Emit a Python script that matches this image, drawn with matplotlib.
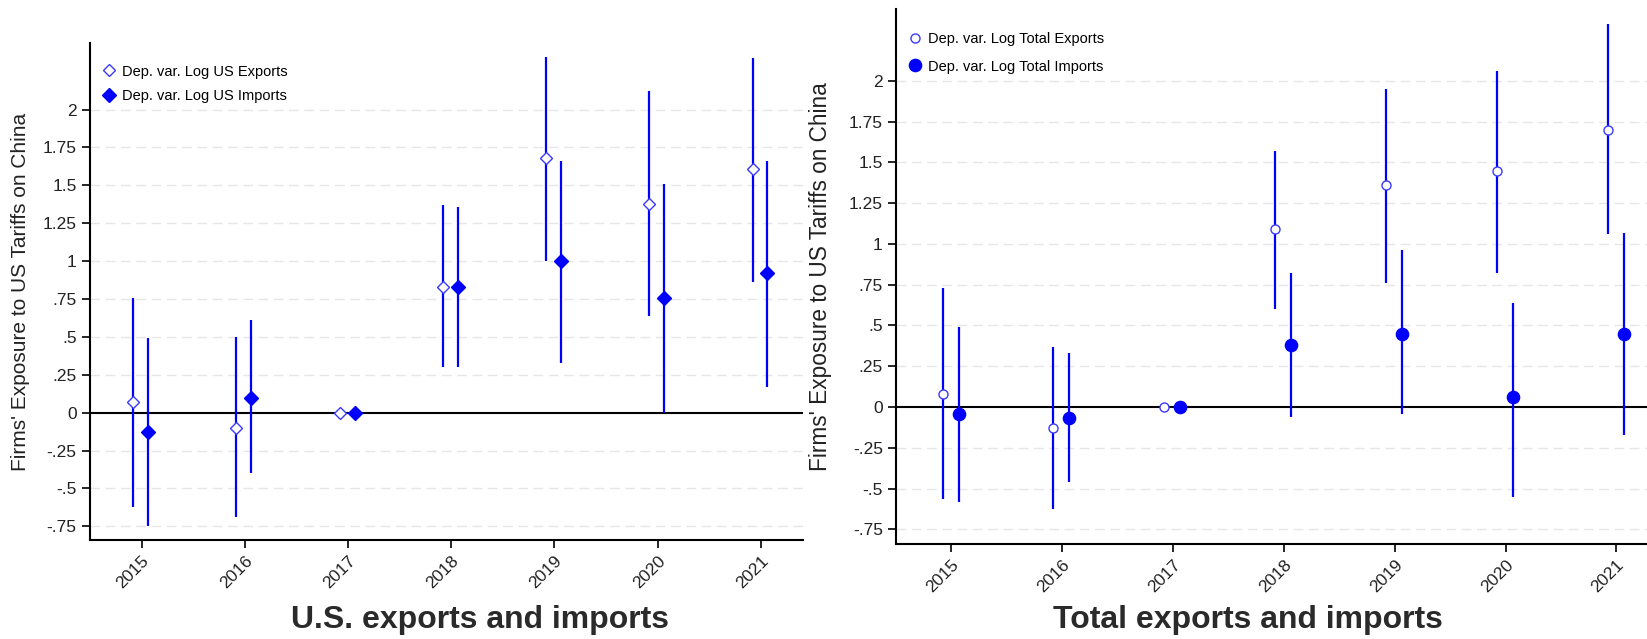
import numpy as np
import matplotlib
matplotlib.use("Agg")
import matplotlib.pyplot as plt
from matplotlib import font_manager

plt.rcParams["font.family"] = ["Liberation Sans", "DejaVu Sans"]

years = [2015, 2016, 2017, 2018, 2019, 2020, 2021]

# US exports / imports: point estimates and 95% CI bounds (2017 is the base year)
us_exp = [0.07, -0.10, 0.0, 0.83, 1.68, 1.38, 1.61]
us_exp_lo = [-0.62, -0.69, np.nan, 0.30, 1.00, 0.64, 0.86]
us_exp_hi = [0.76, 0.50, np.nan, 1.37, 2.35, 2.12, 2.34]
us_imp = [-0.13, 0.10, 0.0, 0.83, 1.00, 0.76, 0.92]
us_imp_lo = [-0.745, -0.40, np.nan, 0.30, 0.33, 0.0, 0.17]
us_imp_hi = [0.49, 0.61, np.nan, 1.36, 1.66, 1.51, 1.66]

# total exports / imports
tot_exp = [0.08, -0.13, 0.0, 1.09, 1.36, 1.45, 1.70]
tot_exp_lo = [-0.565, -0.625, np.nan, 0.60, 0.76, 0.82, 1.06]
tot_exp_hi = [0.73, 0.37, np.nan, 1.57, 1.95, 2.06, 2.35]
tot_imp = [-0.04, -0.07, 0.0, 0.38, 0.45, 0.06, 0.45]
tot_imp_lo = [-0.58, -0.46, np.nan, -0.06, -0.04, -0.55, -0.17]
tot_imp_hi = [0.49, 0.33, np.nan, 0.82, 0.96, 0.64, 1.07]

yticks = [-0.75, -0.5, -0.25, 0, 0.25, 0.5, 0.75, 1, 1.25, 1.5, 1.75, 2]
ytick_labels = ["-.75", "-.5", "-.25", "0", ".25", ".5", ".75", "1",
                "1.25", "1.5", "1.75", "2"]

BLUE = "#0000ff"

# condensed face for the legend if there is one, else plain Liberation Sans a bit smaller
names = {f.name for f in font_manager.fontManager.ttflist}
if "Liberation Sans Narrow" in names:
    legend_font = {"family": "Liberation Sans Narrow", "size": 12.5}
else:
    legend_font = {"family": "Liberation Sans", "size": 10.5}

fig = plt.figure(figsize=(16.47, 6.39), dpi=100)
ax1 = fig.add_axes([0.0546, 0.1549, 0.433, 0.778])
ax2 = fig.add_axes([0.544, 0.1487, 0.465, 0.837])


def panel(ax, exp, exp_lo, exp_hi, imp, imp_lo, imp_hi, labels, mk, ms_h, ms_f,
          ylab_size, leg_gap):
    x = np.array(years, dtype=float)
    ax.set_xlim(2014.5, 2021.41)
    ax.set_ylim(-0.84, 2.44)
    for t in yticks:
        if t != 0:
            ax.axhline(t, color="#e6e6e6", lw=1.0, ls=(0, (7, 4)), zorder=0)
    ax.axhline(0, color="black", lw=1.5, zorder=1)

    xe = x - 0.08
    xi = x + 0.065
    ax.vlines(xe, exp_lo, exp_hi, color=BLUE, lw=1.6, zorder=2)
    ax.vlines(xi, imp_lo, imp_hi, color=BLUE, lw=1.6, zorder=2)
    ax.plot(xe, exp, ls="none", marker=mk, ms=ms_h, mfc="white",
            mec="#3a3aff", mew=1.0, zorder=3, label=labels[0])
    ax.plot(xi, imp, ls="none", marker=mk, ms=ms_f, mfc=BLUE,
            mec=BLUE, zorder=3, label=labels[1])

    for s in ["top", "right"]:
        ax.spines[s].set_visible(False)
    for s in ["left", "bottom"]:
        ax.spines[s].set_linewidth(1.5)
        ax.spines[s].set_color("black")

    ax.set_yticks(yticks)
    ax.set_yticklabels(ytick_labels)
    ax.set_xticks(years)
    ax.set_xticklabels([str(y) for y in years], rotation=45, ha="right",
                       rotation_mode="anchor")
    ax.tick_params(axis="both", labelsize=12.5, length=6, width=1.2,
                   colors="black", labelcolor="#222222")
    ax.set_ylabel("Firms' Exposure to US Tariffs on China", fontsize=ylab_size,
                  color="#222222")
    ax.yaxis.set_label_coords(-0.084, 0.5)

    ax.legend(loc="upper left", bbox_to_anchor=(0.0, 0.977), frameon=False,
              prop=legend_font, handletextpad=0.3, labelspacing=leg_gap,
              handlelength=1.2, borderaxespad=0.3)


panel(ax1, us_exp, us_exp_lo, us_exp_hi, us_imp, us_imp_lo, us_imp_hi,
      ["Dep. var. Log US Exports", "Dep. var. Log US Imports"], "D", 6.6, 7.6,
      15, 0.75)
panel(ax2, tot_exp, tot_exp_lo, tot_exp_hi, tot_imp, tot_imp_lo, tot_imp_hi,
      ["Dep. var. Log Total Exports", "Dep. var. Log Total Imports"], "o", 6.5,
      8.8, 16.3, 0.95)

fig.text(0.2914, 0.030, "U.S. exports and imports", ha="center", va="center",
         fontsize=23, fontweight="bold", color="#2a2a2a")
fig.text(0.758, 0.030, "Total exports and imports", ha="center", va="center",
         fontsize=23, fontweight="bold", color="#2a2a2a")

fig.savefig("out.png", dpi=100)
